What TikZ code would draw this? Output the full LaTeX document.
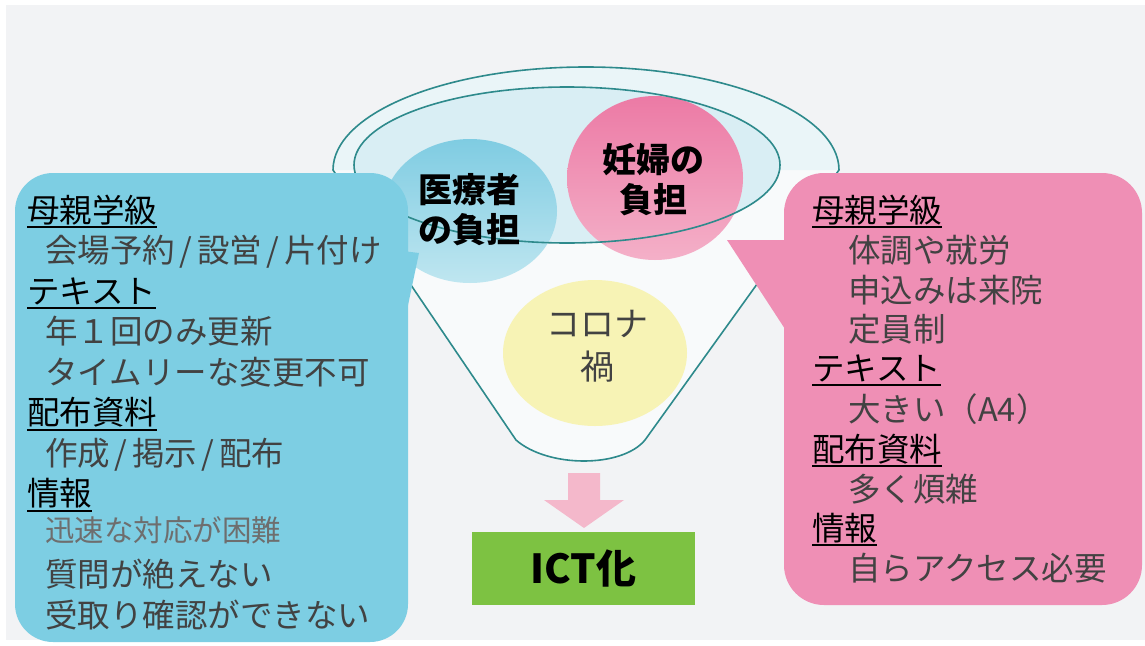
\documentclass[tikz,border=0pt]{standalone}
\usepackage{fontspec}
\setmainfont{Noto Sans CJK JP}
\usetikzlibrary{shapes.geometric}
\definecolor{bg}{HTML}{F2F3F5}
\definecolor{boxblue}{HTML}{7DCEE3}
\definecolor{boxpink}{HTML}{EF8FB5}
\definecolor{tealline}{HTML}{2E8A8C}
\definecolor{innerfill}{HTML}{D9EEF4}
\definecolor{outerfill}{HTML}{EAF5F8}
\definecolor{funfill}{HTML}{F8FAFB}
\definecolor{cblue}{HTML}{7FCCE2}
\definecolor{cblueb}{HTML}{BFE6F0}
\definecolor{cpink}{HTML}{EC7AA5}
\definecolor{cpinkb}{HTML}{F4B0C8}
\definecolor{cyellow}{HTML}{F7F3B5}
\definecolor{arrowpink}{HTML}{F4B8CB}
\definecolor{ictgreen}{HTML}{7DC242}
\definecolor{itemgray}{HTML}{424242}
\definecolor{softgray}{HTML}{6E6E6E}
\newcommand{\myslash}{\makebox[22pt]{/}}
\tikzset{
  hdr/.style={anchor=base west, inner sep=0pt, text=black, font=\fontsize{32.5}{32.5}\selectfont},
  itm/.style={anchor=base west, inner sep=0pt, text=itemgray, font=\fontsize{32.5}{32.5}\selectfont},
  uline/.style={line width=2pt, black},
  bigtxt/.style={inner sep=0pt, align=center, font=\bfseries\fontsize{34}{40}\selectfont},
  tealedge/.style={draw=tealline, line width=1.6pt}
}
\begin{document}
\begin{tikzpicture}[x=1pt,y=-1pt]
\useasboundingbox (0,0) rectangle (1145,645);
\fill[white] (0,0) rectangle (1145,645);
\fill[bg] (6,5) rectangle (1145,640);
% funnel
\fill[funfill] (333,170) arc[start angle=180,end angle=360,x radius=253,y radius=103]
  -- (645,440) .. controls (622,468) and (548,468) .. (516,440) -- cycle;
\fill[outerfill] (333,170) arc[start angle=180,end angle=360,x radius=253,y radius=103] -- cycle;
\fill[innerfill] (567,165) ellipse[x radius=213,y radius=78];
% circles
\node[ellipse, minimum width=184pt, minimum height=146pt, fill=cyellow] (corona) at (595,353) {};
\node[ellipse, minimum width=174pt, minimum height=144pt, top color=cblue, bottom color=cblueb] (med) at (470,211) {};
\node[ellipse, minimum width=176pt, minimum height=164pt, top color=cpink, bottom color=cpinkb] (preg) at (655,178) {};
\draw[tealedge] (567,165) ellipse[x radius=213,y radius=78];
\draw[tealedge] (333,170) arc[start angle=180,end angle=360,x radius=253,y radius=103]
  -- (645,440) .. controls (622,468) and (548,468) .. (516,440) -- cycle;
% boxes
\fill[boxblue] (395,250) -- (419,253) -- (407,310) -- cycle;
\fill[boxblue, rounded corners=38pt] (15,173) rectangle (408,642);
\fill[boxpink] (727,240) -- (800,240) -- (800,352) -- cycle;
\fill[boxpink, rounded corners=40pt] (784,173) rectangle (1142,605);
% circle texts
\node[bigtxt] (medtxt) at (469,210) {医療者\\の負担};
\node[bigtxt] (pregtxt) at (653,180) {妊婦の\\負担};
\node[inner sep=0pt, align=center, text=itemgray, font=\fontsize{34}{43}\selectfont] (cortxt) at (597,346) {コロナ\\禍};
% left texts
\node[hdr] (L1) at (27,222) {母親学級};
\node[itm] (L2) at (45,262.5) {会場予約\myslash 設営\myslash 片付け};
\node[hdr] (L3) at (27,303) {テキスト};
\node[itm] (L4) at (45,343.5) {年１回のみ更新};
\node[itm] (L5) at (45,384) {タイムリーな変更不可};
\node[hdr] (L6) at (27,424.5) {配布資料};
\node[itm] (L7) at (45,465) {作成\myslash 掲示\myslash 配布};
\node[hdr] (L8) at (27,505.5) {情報};
\node[itm, text=softgray, font=\fontsize{29.5}{29.5}\selectfont] (L9) at (45,541) {迅速な対応が困難};
\node[itm] (L10) at (45,586.5) {質問が絶えない};
\node[itm] (L11) at (45,627) {受取り確認ができない};
\foreach \n in {L1,L3,L6,L8}
  \draw[uline] ([yshift=-5pt]\n.base west) -- ([yshift=-5pt]\n.base east);
% right texts
\node[hdr] (R1) at (812,222) {母親学級};
\node[itm] (R2) at (848,262) {体調や就労};
\node[itm] (R3) at (848,302) {申込みは来院};
\node[itm] (R4) at (848,341) {定員制};
\node[hdr] (R5) at (812,380) {テキスト};
\node[itm] (R6) at (848,421) {大きい（A4）};
\node[hdr] (R7) at (812,461) {配布資料};
\node[itm] (R8) at (848,501) {多く煩雑};
\node[hdr] (R9) at (812,540) {情報};
\node[itm] (R10) at (848,580) {自らアクセス必要};
\foreach \n in {R1,R5,R7,R9}
  \draw[uline] ([yshift=-5pt]\n.base west) -- ([yshift=-5pt]\n.base east);
% arrow and ICT box
\node[inner sep=0pt, minimum width=223pt, minimum height=73pt, fill=ictgreen,
  font=\bfseries\fontsize{40}{40}\selectfont] (ict) at (583.5,568.5) {ICT化};
\fill[arrowpink] (568,473) -- (600,473) -- (600,500) -- (624,500) -- (584,528) -- (544,500) -- (568,500) -- cycle;
\end{tikzpicture}
\end{document}
